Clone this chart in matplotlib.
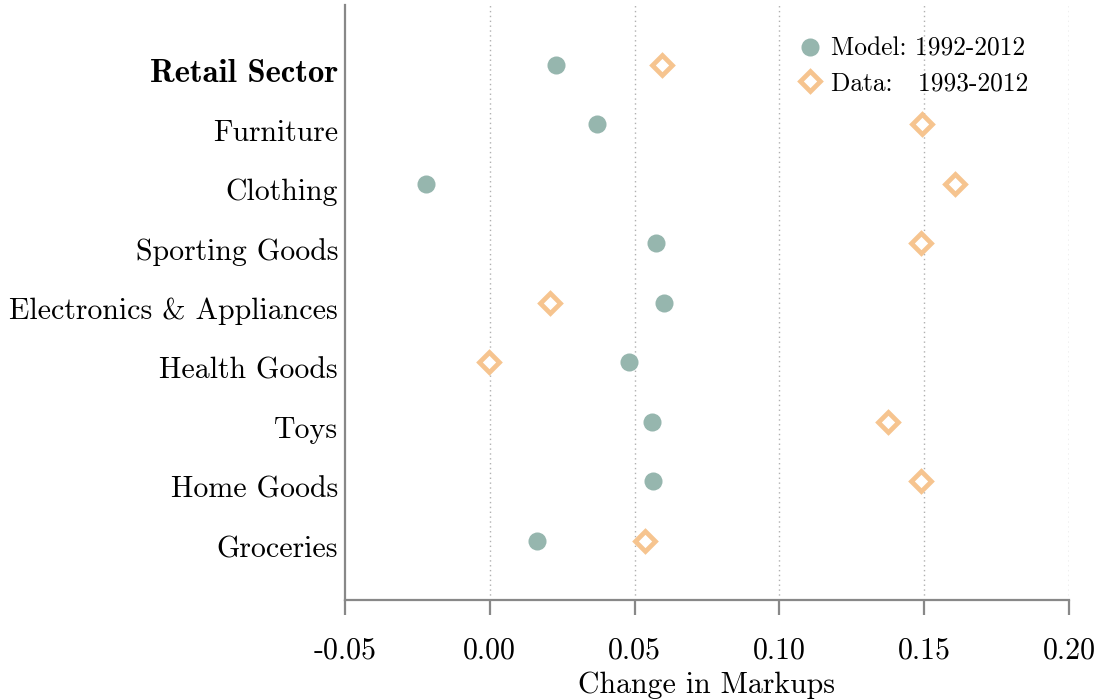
import matplotlib
matplotlib.use("Agg")
import matplotlib.pyplot as plt
import matplotlib.transforms as mtransforms
import numpy as np

categories = ["Retail Sector", "Furniture", "Clothing", "Sporting Goods",
              "Electronics & Appliances", "Health Goods", "Toys", "Home Goods", "Groceries"]
model_vals = [0.0229, 0.0370, -0.0220, 0.0574, 0.0601, 0.0480, 0.0560, 0.0562, 0.0163]
data_vals = [0.0595, 0.1494, 0.1608, 0.1488, 0.0208, -0.0003, 0.1374, 0.1488, 0.0536]
xticks = [-0.05, 0.00, 0.05, 0.10, 0.15, 0.20]
xtick_labels = ["-0.05", "0.00", "0.05", "0.10", "0.15", "0.20"]

plt.rcParams['font.family'] = ['cmr10', 'DejaVu Serif']
plt.rcParams['axes.unicode_minus'] = False

fig = plt.figure(figsize=(11.02, 7.0), dpi=100)
ax = fig.add_axes([345/1102, 1 - 600/700, (1069-345)/1102, (600-5)/700])

n = len(categories)
ypos = np.arange(n)[::-1]

ax.set_xlim(-0.05, 0.20)
ax.set_ylim(-1, n)

for xt in xticks[1:]:
    ax.axvline(xt, color="#b0b0b0", linestyle=(0, (1, 2.5)), linewidth=1.0, zorder=0)

ax.plot(model_vals, ypos, linestyle="none", marker="o", markersize=13,
        color="#96b6ae", markeredgewidth=0, label="Model: 1992-2012", zorder=3)
ax.plot(data_vals, ypos, linestyle="none", marker="D", markersize=10.5,
        markerfacecolor="white", markeredgecolor="#f6c48f", markeredgewidth=3.4,
        label="Data:   1993-2012", zorder=3)

ax.set_yticks(ypos)
ax.set_yticklabels(categories, fontsize=21.5)
ax.tick_params(axis="y", length=0, pad=5)
offset = mtransforms.ScaledTranslation(0, -6/100, fig.dpi_scale_trans)
for lab in ax.get_yticklabels():
    lab.set_transform(lab.get_transform() + offset)
first = ax.get_yticklabels()[0]
first.set_fontfamily(['cmb10', 'DejaVu Serif'])
first.set_fontsize(23.5)

ax.set_xticks(xticks)
ax.set_xticklabels(xtick_labels, fontsize=21.5)
ax.tick_params(axis="x", length=11, width=1.6, color="#888888", pad=16)
ax.set_xlabel("Change in Markups", fontsize=21.5, labelpad=5)

for s in ["top", "right"]:
    ax.spines[s].set_visible(False)
for s in ["left", "bottom"]:
    ax.spines[s].set_color("#888888")
    ax.spines[s].set_linewidth(1.6)

leg = ax.legend(loc="upper right", bbox_to_anchor=(0.951, 0.955), frameon=False,
                fontsize=18.3, handletextpad=0.35, labelspacing=0.42, handlelength=1.0,
                borderaxespad=0.0, borderpad=0.2)

fig.savefig("out.png", dpi=100)
